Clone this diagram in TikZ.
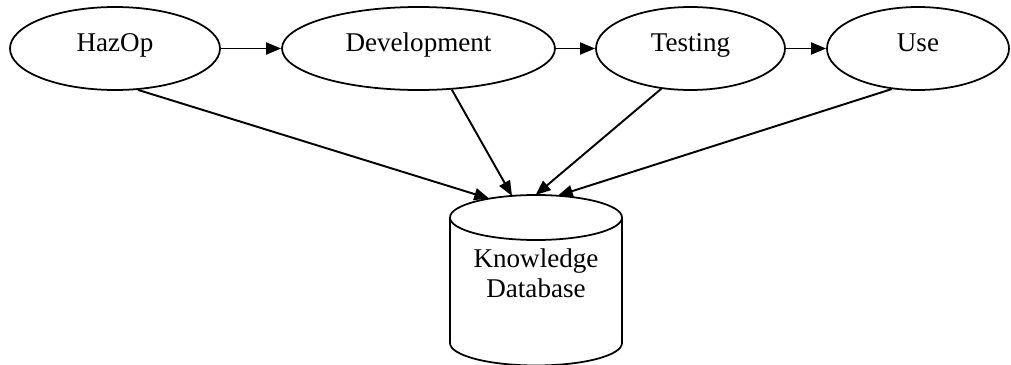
\documentclass[tikz,border=0pt]{standalone}
\usepackage{fontspec}
\setmainfont{Liberation Serif}
\usetikzlibrary{shapes.geometric,arrows.meta}
\tikzset{
    phase/.style={draw, ellipse, line width=1pt, inner sep=0pt, minimum height=1.66cm, text height=0.36cm, text depth=0.26cm, font=\fontsize{15.4}{17}\selectfont},
    flow/.style={line width=1.1pt, -{Triangle[length=0.3cm, width=0.24cm]}}
}
\begin{document}
\begin{tikzpicture}
    \useasboundingbox (0, 0) rectangle (20.22, -7.30);
    \node[phase, minimum width=4.2cm] (hazop) at (2.30, -0.97) {HazOp};
    \node[phase, minimum width=5.46cm] (dev) at (8.37, -0.97) {Development};
    \node[phase, minimum width=3.78cm] (test) at (13.81, -0.97) {Testing};
    \node[phase, minimum width=3.64cm] (use) at (18.36, -0.97) {Use};
    % database cylinder
    \node[draw, ellipse, line width=1pt, outer sep=0pt, inner sep=0pt, minimum width=3.44cm, minimum height=0.9cm] (dbtop) at (10.72, -4.35) {};
    \draw[line width=1pt] (dbtop.west) -- ++(0, -2.51) arc[start angle=180, end angle=360, x radius=1.72, y radius=0.45] -- (dbtop.east);
    \node[align=center, font=\fontsize{15.4}{17}\selectfont] (kb) at (10.72, -5.46) {Knowledge\\Database};
    \draw[flow] (hazop) -- (dev);
    \draw[flow] (dev) -- (test);
    \draw[flow] (test) -- (use);
    \draw[flow] (hazop.-61) -- (dbtop.158);
    \draw[flow] (dev.-51) -- (dbtop.138);
    \draw[flow] (test.-126) -- (dbtop.91);
    \draw[flow] (use.-123) -- (dbtop.45);
\end{tikzpicture}
\end{document}
